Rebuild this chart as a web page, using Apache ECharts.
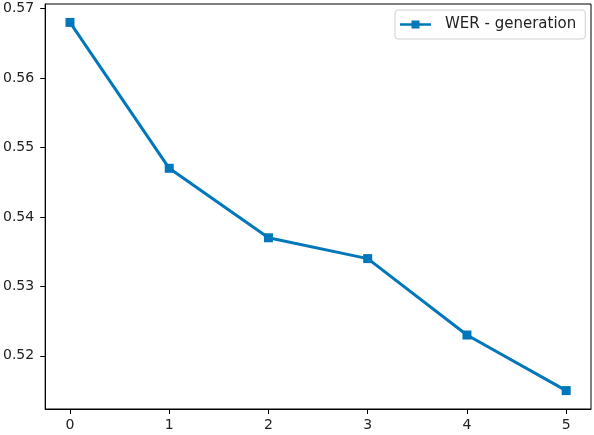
<!DOCTYPE html>
<html>
<head>
<meta charset="utf-8">
<script src="https://cdn.jsdelivr.net/npm/echarts@6/dist/echarts.min.js"></script>
<style>html,body{margin:0;padding:0;background:#fff;}#c{width:594px;height:435px;}</style>
</head>
<body>
<div id="c"></div>
<script>
const seriesName = 'WER - generation';
const xValues = [0, 1, 2, 3, 4, 5];
const werValues = [0.568, 0.547, 0.537, 0.534, 0.523, 0.515];
const xTicks = [0, 1, 2, 3, 4, 5];
const yTicks = [0.52, 0.53, 0.54, 0.55, 0.56, 0.57];

const chart = echarts.init(document.getElementById('c'), null, {renderer: 'canvas'});
const font = 'DejaVu Sans';
chart.setOption({
  animation: false,
  backgroundColor: '#fff',
  grid: {left: 45, right: 3, top: 4, bottom: 26, show: true, borderColor: '#000', borderWidth: 1, backgroundColor: 'transparent'},
  legend: {
    data: [seriesName], left: 395, top: 10,
    padding: [7, 9, 7, 5],
    backgroundColor: '#fff', borderColor: '#d0d0d0', borderWidth: 1, borderRadius: 3,
    itemWidth: 31, itemHeight: 8,
    icon: 'path://M0,2.7H11.5V0H19.5V2.7H31V5.3H19.5V8H11.5V5.3H0Z',
    textStyle: {fontFamily: font, fontSize: 15, color: '#222', padding: [0, 0, 0, 9]}
  },
  xAxis: {
    type: 'value', min: -0.25, max: 5.25,
    splitLine: {show: false},
    axisLine: {show: true, onZero: false, lineStyle: {color: '#000', width: 1}},
    axisTick: {show: true, length: 5, customValues: xTicks, lineStyle: {color: '#000'}},
    axisLabel: {customValues: xTicks, fontFamily: font, fontSize: 14, color: '#222', margin: 9}
  },
  yAxis: {
    type: 'value', min: 0.51235, max: 0.57065,
    splitLine: {show: false},
    axisLine: {show: true, onZero: false, lineStyle: {color: '#000', width: 1}},
    axisTick: {show: true, length: 5, customValues: yTicks, lineStyle: {color: '#000'}},
    axisLabel: {customValues: yTicks, fontFamily: font, fontSize: 14, color: '#222', margin: 11,
      formatter: v => v.toFixed(2)}
  },
  series: [{
    name: seriesName, type: 'line',
    data: xValues.map((x, i) => [x, werValues[i]]),
    symbol: 'rect', symbolSize: 9, showAllSymbol: true,
    lineStyle: {color: '#0077bb', width: 3},
    itemStyle: {color: '#0077bb'}
  }]
});
</script>
</body>
</html>
